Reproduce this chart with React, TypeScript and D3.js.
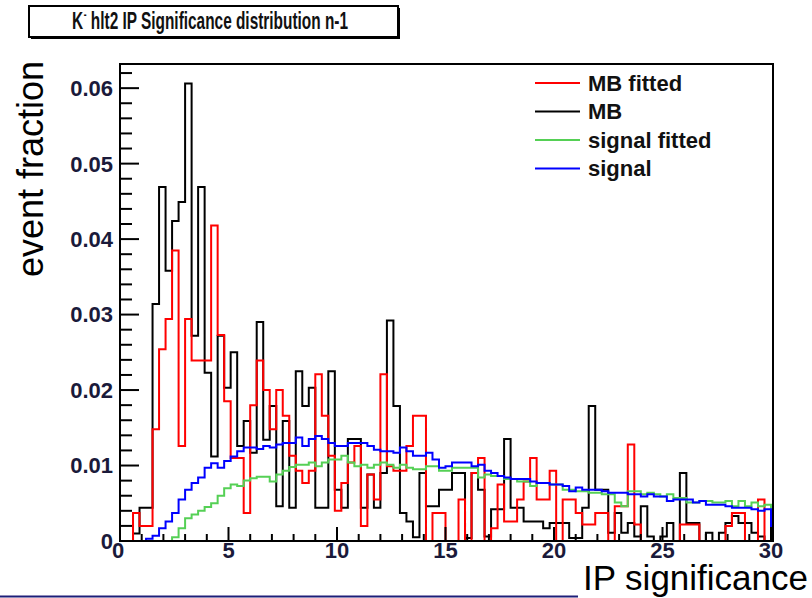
import React from 'react';
import * as d3 from 'd3';

// bin contents, 100 bins of width 0.3 from 0 to 30
const binWidth = 0.3;

const mbValues = [
  0, 0, 0.001, 0.0044, 0.0044, 0.0314, 0.0469, 0.0358, 0.0424, 0.0449,
  0.0606, 0.0272, 0.0469, 0.0223, 0.0112, 0.0272, 0.0203, 0.025, 0.0126, 0.0159,
  0.0117, 0.029, 0.0134, 0.0179, 0.0046, 0.0159, 0.0044, 0.0225, 0.0179, 0.0203,
  0.0044, 0.0044, 0.0225, 0.0068, 0.0044, 0.0135, 0.0135, 0.0044, 0.0088, 0.0044,
  0.009, 0.0292, 0.0179, 0.0037, 0.0026, 0.0005, 0.009, 0.0046, 0.0046, 0.0068,
  0.0068, 0.009, 0.009, 0.0004, 0.009, 0.0068, 0.0006, 0.0042, 0.0042, 0.0135,
  0.0044, 0.0044, 0.0026, 0.0026, 0.0026, 0.0017, 0.0024, 0.0024, 0.0024, 0.0004,
  0.0004, 0.0044, 0.0179, 0.0068, 0.0068, 0.0011, 0.0037, 0.0011, 0.0024, 0.0006,
  0.0046, 0.0006, 0, 0.0006, 0.0024, 0, 0.009, 0.0024, 0.0024, 0,
  0.0011, 0, 0.0011, 0.0024, 0.0033, 0.0024, 0.0024, 0.0011, 0.0006, 0,
];

const mbFittedValues = [
  0, 0, 0.0037, 0.002, 0.002, 0.0148, 0.0254, 0.0294, 0.0385, 0.0126,
  0.0294, 0.0239, 0.0239, 0.0239, 0.0418, 0.0273, 0.0185, 0.011, 0.011, 0.0037,
  0.018, 0.0239, 0.02, 0.0148, 0.02, 0.0166, 0.0113, 0.0093, 0.0077, 0.0093,
  0.0221, 0.0166, 0.0113, 0.004, 0.0077, 0.0104, 0.0126, 0.002, 0.0088, 0.0055,
  0.0221, 0.0099, 0.0093, 0.0093, 0.0126, 0.0166, 0.0166, 0, 0.0037, 0.0037,
  0, 0, 0.0055, 0, 0.009, 0.011, 0, 0.0017, 0.0075, 0.0026,
  0.0026, 0.0055, 0.0079, 0.011, 0.0055, 0.0055, 0.0093, 0, 0.0055, 0.0055,
  0.0037, 0.0022, 0.0022, 0.0037, 0.0037, 0, 0.0046, 0.0046, 0.0128, 0.0022,
  0, 0, 0, 0, 0, 0, 0.0022, 0.0022, 0.0022, 0,
  0, 0, 0, 0.002, 0.0037, 0.0037, 0, 0, 0.0055, 0,
];

const signalFittedValues = [
  0, 0, 0, 0, 0, 0, 0, 0, 0.0005, 0.0017,
  0.003, 0.0035, 0.004, 0.0045, 0.005, 0.006, 0.007, 0.0075, 0.0073, 0.008,
  0.0083, 0.0085, 0.0085, 0.0079, 0.0088, 0.0093, 0.0098, 0.0101, 0.0101, 0.0104,
  0.0099, 0.0104, 0.0108, 0.0108, 0.0113, 0.0104, 0.0099, 0.0101, 0.0097, 0.0101,
  0.0104, 0.0101, 0.0097, 0.0101, 0.0097, 0.0095, 0.0095, 0.0099, 0.0099, 0.0093,
  0.0093, 0.0097, 0.0097, 0.0097, 0.0097, 0.0084, 0.0088, 0.0086, 0.0086, 0.0082,
  0.0082, 0.0079, 0.0079, 0.0073, 0.0077, 0.0077, 0.0075, 0.0075, 0.0068, 0.0068,
  0.0066, 0.0066, 0.0064, 0.0064, 0.0062, 0.0062, 0.0051, 0.0046, 0.0066, 0.0066,
  0.0062, 0.0064, 0.0062, 0.0059, 0.0062, 0.0057, 0.0057, 0.0051, 0.0051, 0.0053,
  0.0053, 0.0051, 0.0051, 0.0053, 0.0046, 0.0053, 0.0046, 0.0051, 0.0046, 0.0048,
];

const signalValues = [
  0, 0, 0, 0, 0.0003, 0.0007, 0.0017, 0.0026, 0.0037, 0.0055,
  0.0068, 0.0077, 0.0084, 0.0097, 0.0103, 0.0097, 0.0106, 0.0112, 0.0119, 0.0124,
  0.0124, 0.0122, 0.0126, 0.0124, 0.0128, 0.013, 0.013, 0.0137, 0.0126, 0.0135,
  0.0139, 0.0135, 0.013, 0.0126, 0.0126, 0.013, 0.013, 0.013, 0.0126, 0.0121,
  0.0119, 0.0119, 0.0117, 0.0124, 0.0119, 0.0113, 0.0113, 0.0117, 0.0108, 0.0097,
  0.0099, 0.0104, 0.0104, 0.0104, 0.0099, 0.0101, 0.0093, 0.009, 0.0086, 0.0084,
  0.0082, 0.0082, 0.0082, 0.0079, 0.0077, 0.0077, 0.0075, 0.0075, 0.0073, 0.0066,
  0.0071, 0.0068, 0.0068, 0.0068, 0.0066, 0.0064, 0.0064, 0.0064, 0.0062, 0.0062,
  0.0059, 0.0062, 0.0059, 0.0059, 0.0053, 0.0055, 0.0055, 0.0055, 0.0051, 0.0053,
  0.0048, 0.0048, 0.0048, 0.0046, 0.0044, 0.0044, 0.0044, 0.0042, 0.004, 0.0042,
];

const seriesLabels = ['MB fitted', 'MB', 'signal fitted', 'signal'];
const yTickLabels = ['0', '0.01', '0.02', '0.03', '0.04', '0.05', '0.06'];
const xTickLabels = ['0', '5', '10', '15', '20', '25', '30'];

const colors: Record<string, string> = {
  'MB fitted': '#ff0000',
  'MB': '#000000',
  'signal fitted': '#55d055',
  'signal': '#0000ff',
};

const left = 120, right = 771, top = 64, bottom = 541;
const font = '"Liberation Sans", Arial, sans-serif';

const App = () => {
  const x = d3.scaleLinear().domain([0, 30]).range([left, right]);
  const y = d3.scaleLinear().domain([0, 0.0632]).range([bottom, top]);

  const stepPath = (vals: number[]) => {
    const pts: [number, number][] = [[0, 0]];
    vals.forEach((v, i) => pts.push([i * binWidth, v]));
    pts.push([vals.length * binWidth, vals[vals.length - 1]]);
    pts.push([vals.length * binWidth, 0]);
    return d3.line<[number, number]>()
      .x(d => x(d[0]))
      .y(d => y(d[1]))
      .curve(d3.curveStepAfter)(pts) as string;
  };

  const seriesData: Record<string, number[]> = {
    'MB fitted': mbFittedValues,
    'MB': mbValues,
    'signal fitted': signalFittedValues,
    'signal': signalValues,
  };
  const drawOrder = ['MB', 'MB fitted', 'signal fitted', 'signal'];

  const yMinor = d3.range(0, 0.0631, 0.002);
  const xMinor = d3.range(0, 30.01, 1);

  return (
    <div style={{ position: 'absolute', left: 0, top: 0 }}>
      <svg width={812} height={598} style={{ display: 'block', background: '#fff' }}>
        <defs>
          <clipPath id="frame">
            <rect x={left} y={top} width={right - left + 2} height={bottom - top} />
          </clipPath>
        </defs>

        {/* title box */}
        <rect x={31} y={8} width={369} height={31} fill="#000" />
        <rect x={29} y={6} width={369} height={31} fill="#fff" stroke="#000" strokeWidth={2} />
        <text x={72} y={29} fontFamily={font} fontWeight="bold" fontSize={24}
          textLength={276} lengthAdjust="spacingAndGlyphs" fill="#111">
          K<tspan fontSize={13} dx={1} dy={-10}>-</tspan><tspan dy={10}> hlt2 IP Significance distribution n-1</tspan>
        </text>

        {/* histograms */}
        <g clipPath="url(#frame)">
          {drawOrder.map(name => (
            <path key={name} d={stepPath(seriesData[name])} fill="none"
              stroke={colors[name]} strokeWidth={2} strokeLinejoin="miter" />
          ))}
        </g>

        {/* frame */}
        <rect x={left} y={top} width={right - left + 2} height={bottom - top}
          fill="none" stroke="#000" strokeWidth={2} />

        {/* y axis ticks */}
        {yMinor.map((v, i) => (
          <line key={'ym' + i} x1={left} x2={left + (i % 5 === 0 ? 19 : 12)}
            y1={y(v)} y2={y(v)} stroke="#000" strokeWidth={2} />
        ))}
        {yTickLabels.map(t => (
          <text key={'yl' + t} x={113} y={y(+t)} dy="0.36em" textAnchor="end"
            fontFamily={font} fontWeight="bold" fontSize={22} fill="#1a1a3a">
            {t}
          </text>
        ))}

        {/* x axis ticks */}
        {xMinor.map((v, i) => (
          <line key={'xm' + i} x1={x(v)} x2={x(v)} y1={bottom}
            y2={bottom - (i % 5 === 0 ? 14 : 7)} stroke="#000" strokeWidth={2} />
        ))}
        {xTickLabels.map(t => (
          <text key={'xl' + t} x={x(+t) + (t === '0' ? -2 : 0)} y={558} textAnchor="middle"
            fontFamily={font} fontWeight="bold" fontSize={22} fill="#1a1a3a">
            {t}
          </text>
        ))}

        {/* legend */}
        {seriesLabels.map((name, i) => {
          const ly = 83 + i * 28.5;
          return (
            <g key={'lg' + name}>
              <line x1={535} x2={580} y1={ly} y2={ly} stroke={colors[name]} strokeWidth={2} />
              <text x={588} y={ly} dy="0.36em" fontFamily={font} fontWeight="bold"
                fontSize={22} fill="#111">{name}</text>
            </g>
          );
        })}

        {/* axis titles */}
        <text transform="translate(43,169) rotate(-90)" textAnchor="middle"
          fontFamily={font} fontSize={36} fill="#000">event fraction</text>
        <text x={808} y={590} textAnchor="end" fontFamily={font} fontSize={35} fill="#000">
          IP significance
        </text>

        <line x1={0} x2={578} y1={596.5} y2={596.5} stroke="#1e1e78" strokeWidth={2} />
      </svg>
    </div>
  );
};

export default App;
